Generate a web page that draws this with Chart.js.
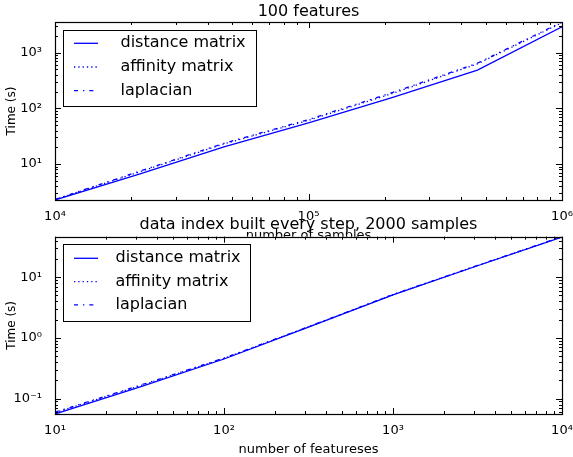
<!DOCTYPE html>
<html><head><meta charset="utf-8">
<script src="https://cdn.jsdelivr.net/npm/chart.js@4/dist/chart.umd.min.js"></script>
<style>
html,body{margin:0;padding:0;background:#fff;}
#wrap{position:relative;width:573px;height:457px;overflow:hidden;background:#fff;}
canvas{position:absolute;left:0;}
</style></head><body>
<div id="wrap">
<canvas id="c1" width="573" height="243" style="top:0px"></canvas>
<canvas id="c2" width="573" height="244" style="top:213px"></canvas>
</div>
<script>
// ---- data ----
const nSamples     = [1e4, 2.15e4, 4.64e4, 1e5, 2.15e5, 4.64e5, 1e6];
const distSamples  = [2.26, 6.6, 20.4, 55, 157, 488, 2920];
const affSamples   = [2.3, 7.2, 23, 61, 186, 630, 3450];
const lapSamples   = [2.32, 7.4, 23.6, 63, 193, 648, 3557];

const nFeatures    = [10, 31.6, 100, 316, 1000, 3162, 10000];
const distFeatures = [0.056, 0.155, 0.45, 1.5, 5.1, 15.4, 45.5];
const affFeatures  = [0.059, 0.162, 0.46, 1.52, 5.15, 15.5, 46.0];
const lapFeatures  = [0.06, 0.165, 0.465, 1.53, 5.18, 15.6, 46.3];

const seriesNames = ['distance matrix', 'affinity matrix', 'laplacian'];
const panelTitles = ['100 features', 'data index built every step, 2000 samples'];
const xAxisLabels = ['number of samples', 'number of featureses'];
const yAxisLabel  = 'Time (s)';

// ---- helpers ----
const FONT = '"DejaVu Sans", "Bitstream Vera Sans", sans-serif';
const BLUE = 'rgb(0,0,255)';
const SUP = {'0':'⁰','1':'¹','2':'²','3':'³','4':'⁴','5':'⁵','6':'⁶','7':'⁷','8':'⁸','9':'⁹','-':'⁻'};
function fmtPow(v) {
  const e = Math.round(Math.log10(v));
  return '10' + String(e).split('').map(c => SUP[c]).join('');
}
function decades(min, max) {
  const out = [];
  for (let e = Math.floor(Math.log10(min)); e <= Math.ceil(Math.log10(max)); e++) {
    const v = Math.pow(10, e);
    if (v >= min * 0.9999 && v <= max * 1.0001) out.push(v);
  }
  return out;
}
function allTicks(min, max) {
  const out = [];
  for (let e = Math.floor(Math.log10(min)); e <= Math.ceil(Math.log10(max)); e++) {
    for (let m = 1; m <= 9; m++) {
      const v = m * Math.pow(10, e);
      if (v >= min * 0.9999 && v <= max * 1.0001) out.push({v, major: m === 1});
    }
  }
  return out;
}

const mplPlugin = {
  id: 'mpl',
  afterLayout(chart) {
    // centre the title over the axes (as matplotlib does)
    const tb = chart.titleBlock, a = chart.chartArea;
    if (tb) { tb.left = a.left; tb.right = a.right; tb.width = a.right - a.left; }
  },
  beforeDraw(chart) {
    const a = chart.chartArea, ctx = chart.ctx;
    ctx.save();
    ctx.fillStyle = '#fff';
    ctx.fillRect(a.left, a.top, a.right - a.left, a.bottom - a.top);
    ctx.restore();
  },
  afterDatasetsDraw(chart, args, opts) {
    const a = chart.chartArea, ctx = chart.ctx;
    const xs = chart.scales.x, ys = chart.scales.y;
    ctx.save();
    ctx.strokeStyle = '#000';
    ctx.lineWidth = 1;
    ctx.beginPath();
    for (const t of allTicks(xs.min, xs.max)) {
      const px = Math.round(xs.getPixelForValue(t.v)) + 0.5;
      const len = t.major ? 6 : 3;
      ctx.moveTo(px, a.bottom); ctx.lineTo(px, a.bottom - len);
      ctx.moveTo(px, a.top); ctx.lineTo(px, a.top + len);
    }
    for (const t of allTicks(ys.min, ys.max)) {
      const py = Math.round(ys.getPixelForValue(t.v)) + 0.5;
      const len = t.major ? 6 : 3;
      ctx.moveTo(a.left, py); ctx.lineTo(a.left + len, py);
      ctx.moveTo(a.right, py); ctx.lineTo(a.right - len, py);
    }
    ctx.stroke();
    ctx.lineWidth = 1.2;
    ctx.strokeRect(Math.round(a.left) + 0.5, Math.round(a.top) + 0.5,
                   Math.round(a.right - a.left), Math.round(a.bottom - a.top));
    // legend box
    const L = opts.legend;
    ctx.fillStyle = '#fff';
    ctx.fillRect(L.x, L.y, L.w, L.h);
    ctx.lineWidth = 1;
    ctx.strokeStyle = '#000';
    ctx.strokeRect(L.x + 0.5, L.y + 0.5, L.w, L.h);
    ctx.font = '16px ' + FONT;
    ctx.textBaseline = 'middle';
    ctx.textAlign = 'left';
    chart.data.datasets.forEach((ds, i) => {
      const y = L.row0 + i * L.step;
      ctx.strokeStyle = BLUE;
      ctx.lineWidth = 1.3;
      ctx.setLineDash(ds.borderDash || []);
      ctx.beginPath();
      ctx.moveTo(L.lx0, y); ctx.lineTo(L.lx1, y);
      ctx.stroke();
      ctx.setLineDash([]);
      ctx.fillStyle = '#000';
      ctx.fillText(ds.label, L.tx, y);
    });
    ctx.restore();
  }
};

function makeChart(id, cfg) {
  const allY = cfg.series.flat();
  const yMin = Math.min(...allY), yMax = Math.max(...allY);
  const xMin = Math.min(...cfg.xs), xMax = Math.max(...cfg.xs);
  const dashes = [[], [1.3, 3], [4, 5, 1.3, 5]];
  return new Chart(document.getElementById(id), {
    type: 'line',
    data: {
      datasets: cfg.series.map((s, k) => ({
        label: seriesNames[k],
        data: cfg.xs.map((x, i) => ({x: x, y: s[i]})),
        borderColor: BLUE,
        backgroundColor: BLUE,
        borderWidth: 1.3,
        borderDash: dashes[k],
        pointRadius: 0,
        tension: 0,
        fill: false
      }))
    },
    options: {
      responsive: false,
      animation: false,
      events: [],
      layout: {padding: {top: 0, right: 11, bottom: 0, left: 0}},
      plugins: {
        legend: {display: false},
        tooltip: {enabled: false},
        title: {
          display: true, text: cfg.title, color: '#000',
          font: {family: FONT, size: 16, weight: 'normal'},
          padding: {top: 2.4, bottom: cfg.titlePadB}
        },
        mpl: {legend: cfg.legend}
      },
      scales: {
        x: {
          type: 'logarithmic', min: xMin, max: xMax,
          grid: {display: false}, border: {display: false},
          ticks: {color: '#000', font: {family: FONT, size: 13}, padding: 1,
                  maxRotation: 0, autoSkip: false, callback: v => fmtPow(v)},
          afterBuildTicks: s => { s.ticks = decades(xMin, xMax).map(v => ({value: v})); },
          afterFit: s => { s.height = 43; s.paddingLeft = 0; s.paddingRight = 0; },
          title: {display: true, text: cfg.xLabel, color: '#000',
                  font: {family: FONT, size: 13}, padding: {top: 0, bottom: 0}}
        },
        y: {
          type: 'logarithmic', min: yMin, max: yMax,
          grid: {display: false}, border: {display: false},
          ticks: {color: '#000', font: {family: FONT, size: 13}, padding: 5,
                  autoSkip: false, callback: v => fmtPow(v)},
          afterBuildTicks: s => { s.ticks = decades(yMin, yMax).map(v => ({value: v})); },
          afterFit: s => { s.width = 55; s.paddingTop = 0; s.paddingBottom = 0; },
          title: {display: true, text: yAxisLabel, color: '#000',
                  font: {family: FONT, size: 12}, padding: {top: 4.5, bottom: 0}}
        }
      }
    },
    plugins: [mplPlugin]
  });
}

makeChart('c1', {
  xs: nSamples, series: [distSamples, affSamples, lapSamples],
  title: panelTitles[0], xLabel: xAxisLabels[0], titlePadB: 0.4,
  legend: {x: 63, y: 30, w: 193, h: 76, lx0: 74, lx1: 98, tx: 120.5, row0: 43.3, step: 23.7}
});
makeChart('c2', {
  xs: nFeatures, series: [distFeatures, affFeatures, lapFeatures],
  title: panelTitles[1], xLabel: xAxisLabels[1], titlePadB: 2.1,
  legend: {x: 63, y: 31, w: 187, h: 77, lx0: 74, lx1: 98, tx: 115.5, row0: 45.3, step: 23.3}
});
</script>
</body></html>
